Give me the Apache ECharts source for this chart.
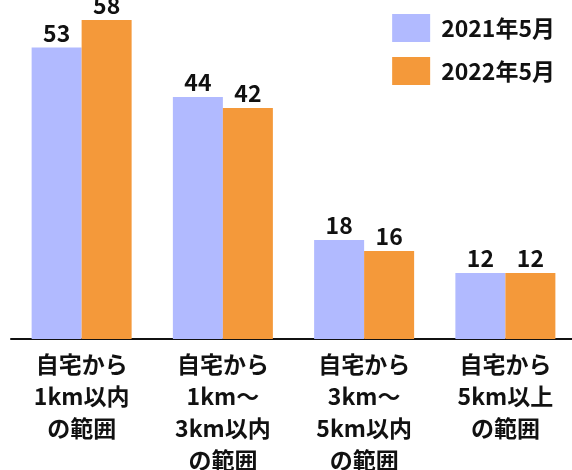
<!DOCTYPE html>
<html><head><meta charset="utf-8">
<script src="https://cdn.jsdelivr.net/npm/echarts@6/dist/echarts.min.js"></script>
<style>html,body{margin:0;padding:0;background:#fff}#c{width:572px;height:470px}</style>
</head><body><div id="c"></div>
<script>
const categories = ['自宅から\n1km以内\nの範囲', '自宅から\n1km～\n3km以内\nの範囲', '自宅から\n3km～\n5km以内\nの範囲', '自宅から\n5km以上\nの範囲'];
const seriesNames = ['2021年5月', '2022年5月'];
const values2021 = [53, 44, 18, 12];
const values2022 = [58, 42, 16, 12];
const colors = ['#b1baff', '#f4993a'];
const FONT = '"Noto Sans CJK JP", "Noto Sans", sans-serif';
const chart = echarts.init(document.getElementById('c'));
const labelStyle = { show: true, position: 'top', distance: 3, color: '#111', fontSize: 23, fontWeight: 'bold', fontFamily: FONT };
chart.setOption({
  animation: false,
  textStyle: { fontFamily: FONT },
  legend: {
    orient: 'vertical', right: 12, top: 9, itemWidth: 38, itemHeight: 28, itemGap: 15,
    icon: 'rect',
    textStyle: { fontSize: 23, fontWeight: 'bold', color: '#111', fontFamily: FONT, padding: [0,0,0,6] },
    data: seriesNames
  },
  grid: { left: 11, right: -4, top: 9, bottom: 131, containLabel: false, outerBoundsMode: 'none' },
  xAxis: {
    type: 'category', data: categories,
    axisLine: { lineStyle: { color: '#111', width: 2 } },
    axisTick: { show: false },
    axisLabel: { interval: 0, fontSize: 23, fontWeight: 'bold', color: '#111', lineHeight: 32, margin: 9, fontFamily: FONT }
  },
  yAxis: { type: 'value', min: 0, max: 60, show: false, splitLine: { show: false } },
  series: [
    { name: seriesNames[0], type: 'bar', data: values2021, barWidth: 50, barGap: '0%', itemStyle: { color: colors[0] }, label: labelStyle },
    { name: seriesNames[1], type: 'bar', data: values2022, barWidth: 50, barGap: '0%', itemStyle: { color: colors[1] }, label: labelStyle }
  ]
});
</script></body></html>
